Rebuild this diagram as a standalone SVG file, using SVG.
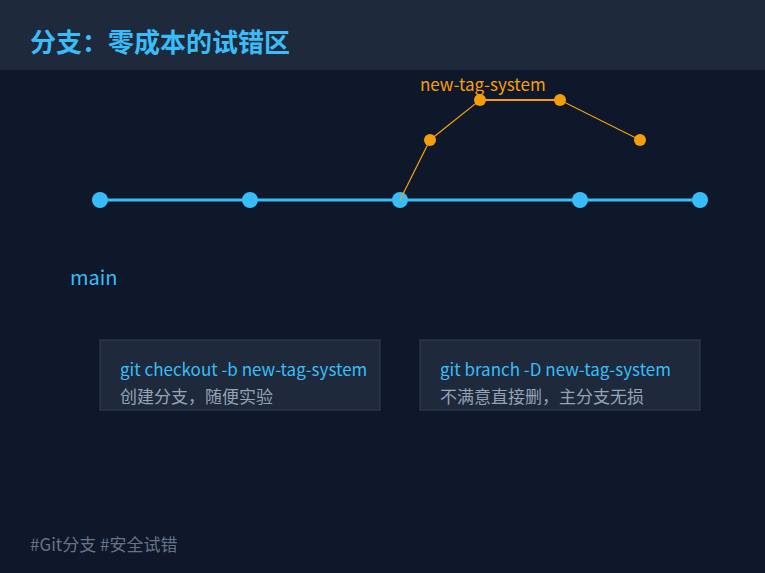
<svg xmlns="http://www.w3.org/2000/svg" width="765" height="573" viewBox="0 0 765 573">
<style>
.t{font-family:"Noto Sans CJK SC","Noto Sans",sans-serif}
.mc{fill:#38bdf8}
.bc{fill:#f59e0b}
.box{fill:#1e293b;stroke:#334155;stroke-width:1}
.cmd{font-size:17px;fill:#38bdf8}
.desc{font-size:17px;fill:#94a3b8}
</style>
<rect width="765" height="573" fill="#0f172a"/>
<rect width="765" height="70" fill="#1e293b"/>
<text class="t" x="30" y="52" font-size="26" font-weight="bold" fill="#38bdf8">分支：零成本的试错区</text>
<g id="connectors">
<line x1="100" y1="200" x2="700" y2="200" stroke="#38bdf8" stroke-width="3"/>
<polyline points="400,200 430,140 480,100 560,100 640,140" fill="none" stroke="#f59e0b" stroke-width="1.2"/>
<line x1="480" y1="100" x2="560" y2="100" stroke="#f59e0b" stroke-width="2"/>
</g>
<g id="main-commits">
<circle class="mc" cx="100" cy="200" r="8"/>
<circle class="mc" cx="250" cy="200" r="8"/>
<circle class="mc" cx="400" cy="200" r="8"/>
<circle class="mc" cx="580" cy="200" r="8"/>
<circle class="mc" cx="700" cy="200" r="8"/>
</g>
<line x1="400" y1="200" x2="404" y2="192" stroke="#f59e0b" stroke-width="1.2"/>
<g id="branch-commits">
<circle class="bc" cx="430" cy="140" r="6"/>
<circle class="bc" cx="480" cy="100" r="6"/>
<circle class="bc" cx="560" cy="100" r="6"/>
<circle class="bc" cx="640" cy="140" r="6"/>
</g>
<text class="t" x="420" y="91" font-size="17" fill="#f59e0b">new-tag-system</text>
<text class="t" x="70" y="285" font-size="20" fill="#38bdf8">main</text>
<g id="box1">
<rect class="box" x="100" y="340" width="280" height="70"/>
<text class="t cmd" x="120" y="376">git checkout -b new-tag-system</text>
<text class="t desc" x="120" y="403">创建分支，随便实验</text>
</g>
<g id="box2">
<rect class="box" x="420" y="340" width="280" height="70"/>
<text class="t cmd" x="440" y="376">git branch -D new-tag-system</text>
<text class="t desc" x="440" y="403">不满意直接删，主分支无损</text>
</g>
<text class="t" x="30" y="551" font-size="17" fill="#64748b">#Git分支 #安全试错</text>
</svg>
